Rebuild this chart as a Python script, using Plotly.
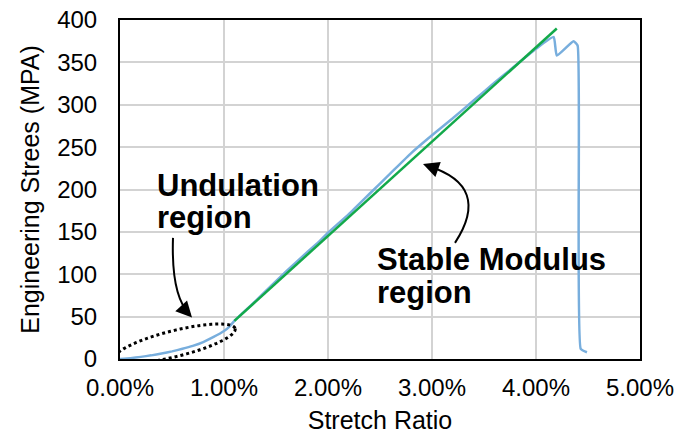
import numpy as np
import plotly.graph_objects as go

# ---- data ----
strain_pct = [0.00, 0.10, 0.20, 0.30, 0.40, 0.50, 0.60, 0.70, 0.80, 0.90, 1.00, 1.05, 1.10,
              1.30, 1.50, 1.70, 1.90, 2.00, 2.20, 2.40, 2.60, 2.80, 3.00, 3.20, 3.40, 3.60,
              3.80, 4.00, 4.17, 4.20, 4.36, 4.40, 4.43, 4.49]
stress_mpa = [0, 1, 2.5, 4.3, 6.5, 9, 12, 15.5, 20, 26, 33, 38, 45,
              68, 92, 115, 137, 149, 171, 195, 219, 243, 264, 284, 305, 326,
              346, 366, 380, 358, 375, 370, 12, 8]
fit_strain_pct = [1.10, 4.20]
fit_stress_mpa = [45, 390]
x_ticks = [0, 0.01, 0.02, 0.03, 0.04, 0.05]
y_ticks = [0, 50, 100, 150, 200, 250, 300, 350, 400]

W, H = 676, 438
ML, MR, MT, MB = 120, 36, 19.5, 78.5
PW, PH = W - ML - MR, H - MT - MB


def px2x(px):
    return (px - ML) / PW * 0.05


def px2y(py):
    return (H - MB - py) / PH * 400


FONT = "Liberation Sans, Arial, Helvetica, sans-serif"

fig = go.Figure()
fig.add_trace(go.Scatter(x=[v / 100 for v in strain_pct], y=stress_mpa, mode="lines",
                         line=dict(color="#78aedd", width=2.5, shape="spline", smoothing=0.4),
                         hoverinfo="skip"))
fig.add_trace(go.Scatter(x=[v / 100 for v in fit_strain_pct], y=fit_stress_mpa, mode="lines",
                         line=dict(color="#12a94a", width=2.5), hoverinfo="skip"))

shapes = []
# dotted ellipse around undulation region
cx, cy, a, b, ang = 175, 344, 62, 13, np.deg2rad(-14)
t = np.linspace(0, 2 * np.pi, 80)
ex = cx + a * np.cos(t) * np.cos(ang) - b * np.sin(t) * np.sin(ang)
ey = cy + a * np.cos(t) * np.sin(ang) + b * np.sin(t) * np.cos(ang)
path = "M " + " L ".join(f"{px2x(x):.6f},{px2y(y):.3f}" for x, y in zip(ex, ey)) + " Z"
shapes.append(dict(type="path", path=path, xref="x", yref="y",
                   line=dict(color="black", width=3, dash="dot")))


def qpath(p0, c, p1):
    return (f"M {px2x(p0[0]):.6f},{px2y(p0[1]):.3f} Q {px2x(c[0]):.6f},{px2y(c[1]):.3f} "
            f"{px2x(p1[0]):.6f},{px2y(p1[1]):.3f}")


shapes.append(dict(type="path", path=qpath((173, 238), (171, 297), (190, 315)), xref="x", yref="y",
                   line=dict(color="black", width=2)))
shapes.append(dict(type="path", path=qpath((455, 243), (492, 186), (428, 166)), xref="x", yref="y",
                   line=dict(color="black", width=2)))

TF = dict(size=31, color="black", family=FONT)
annotations = [
    dict(x=px2x(192), y=px2y(318), ax=px2x(181), ay=px2y(306), xref="x", yref="y", axref="x", ayref="y",
         text="", showarrow=True, arrowhead=2, arrowsize=1.6, arrowwidth=2, arrowcolor="black"),
    dict(x=px2x(423), y=px2y(164), ax=px2x(437), ay=px2y(169), xref="x", yref="y", axref="x", ayref="y",
         text="", showarrow=True, arrowhead=2, arrowsize=1.6, arrowwidth=2, arrowcolor="black"),
    dict(x=px2x(156), y=px2y(185), xref="x", yref="y", text="<b>Undulation</b>", showarrow=False,
         xanchor="left", yanchor="middle", borderpad=0, font=TF),
    dict(x=px2x(156), y=px2y(218), xref="x", yref="y", text="<b>region</b>", showarrow=False,
         xanchor="left", yanchor="middle", borderpad=0, font=TF),
    dict(x=px2x(376), y=px2y(260), xref="x", yref="y", text="<b>Stable Modulus</b>", showarrow=False,
         xanchor="left", yanchor="middle", borderpad=0, font=TF),
    dict(x=px2x(376), y=px2y(293), xref="x", yref="y", text="<b>region</b>", showarrow=False,
         xanchor="left", yanchor="middle", borderpad=0, font=TF),
]

fig.update_layout(
    width=W, height=H, margin=dict(l=ML, r=MR, t=MT, b=MB, pad=0, autoexpand=False),
    paper_bgcolor="white", plot_bgcolor="white", showlegend=False,
    font=dict(family=FONT, size=24, color="black"),
    shapes=shapes, annotations=annotations,
    xaxis=dict(range=[0, 0.05], tickvals=x_ticks, tickformat=".2%", showgrid=True, automargin=False,
               gridcolor="#d3d3d3", gridwidth=2, zeroline=False, showline=True, linecolor="black",
               linewidth=2, mirror=True, ticks="", ticklabelstandoff=6,
               title=dict(text="Stretch Ratio", font=dict(size=25), standoff=12)),
    yaxis=dict(range=[0, 400], tickvals=y_ticks, showgrid=True, gridcolor="#d3d3d3", gridwidth=2,
               zeroline=False, showline=True, linecolor="black", linewidth=2, mirror=True,
               ticks="", ticklabelstandoff=16, automargin=False,
               title=dict(text="Engineering Strees (MPA)", font=dict(size=25), standoff=10)),
)

fig.write_html("out.html", config={"displayModeBar": False},
               post_script="document.body.style.margin='0';document.body.style.overflow='hidden';")
